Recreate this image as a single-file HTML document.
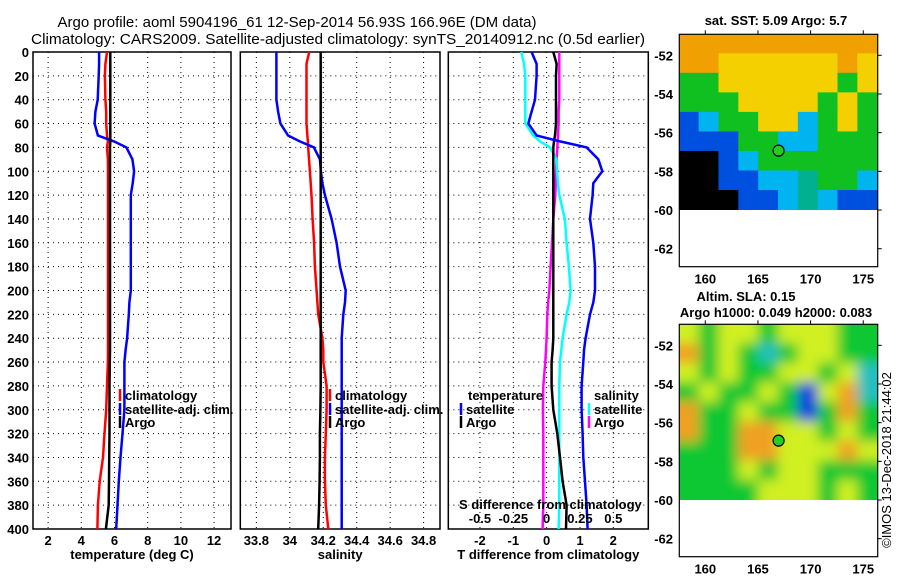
<!DOCTYPE html>
<html><head><meta charset="utf-8"><style>
body{margin:0;background:#fff}
svg{display:block;font-family:"Liberation Sans",sans-serif}
.t{font-size:13px;font-weight:bold;fill:#000}
</style></head><body>
<svg id="fig" width="900" height="580" viewBox="0 0 900 580">
<text x="297" y="27" text-anchor="middle" font-size="15" textLength="479" lengthAdjust="spacingAndGlyphs">Argo profile: aoml 5904196_61 12-Sep-2014 56.93S 166.96E (DM data)</text>
<text x="338" y="44" text-anchor="middle" font-size="15" textLength="614" lengthAdjust="spacingAndGlyphs">Climatology: CARS2009. Satellite-adjusted climatology: synTS_20140912.nc (0.5d earlier)</text>
<g id="panels"></g>
<g id="maps"></g>
<text transform="translate(891,460) rotate(-90)" text-anchor="middle" font-size="13">©IMOS 13-Dec-2018 21:44:02</text>
</svg>
<script>
// ---- data ----
const depths = [0,10,20,40,50,60,70,75,80,90,100,110,120,140,160,180,200,210,220,240,250,260,280,300,320,340,360,380,400];
const tempArgo = [5.75,5.75,5.75,5.75,5.75,5.75,5.75,5.75,5.73,5.73,5.73,5.73,5.73,5.73,5.73,5.73,5.73,5.73,5.73,5.73,5.73,5.72,5.7,5.7,5.7,5.68,5.67,5.65,5.48];
const tempClim = [5.55,5.45,5.42,5.45,5.5,5.5,5.55,5.6,5.55,5.6,5.61,5.61,5.61,5.61,5.61,5.61,5.61,5.61,5.61,5.61,5.61,5.6,5.55,5.5,5.4,5.31,5.11,5.0,4.97];
const tempSat = [5.07,5.07,5.05,4.99,4.85,4.8,5.0,5.97,6.72,7.08,7.18,7.1,6.98,6.98,6.98,6.98,6.98,6.9,6.86,6.76,6.67,6.6,6.6,6.6,6.48,6.36,6.26,6.18,6.1];
const salArgo = [34.185,34.185,34.185,34.185,34.185,34.185,34.185,34.185,34.185,34.185,34.185,34.185,34.185,34.185,34.185,34.185,34.185,34.185,34.185,34.185,34.185,34.185,34.185,34.183,34.18,34.18,34.178,34.175,34.17];
const salClim = [34.116,34.1,34.1,34.1,34.1,34.1,34.105,34.108,34.11,34.115,34.12,34.125,34.13,34.136,34.145,34.15,34.16,34.165,34.17,34.195,34.2,34.2,34.22,34.22,34.215,34.21,34.21,34.215,34.23];
const salSat = [33.92,33.92,33.92,33.92,33.93,33.944,33.99,34.06,34.144,34.18,34.186,34.195,34.21,34.25,34.28,34.3,34.334,34.33,34.32,34.31,34.31,34.31,34.31,34.31,34.31,34.31,34.31,34.31,34.31];
const dTsat = [-0.45,-0.3,-0.3,-0.35,-0.45,-0.55,-0.3,0.4,1.2,1.55,1.67,1.4,1.38,1.3,1.4,1.45,1.45,1.4,1.3,1.17,1.12,1.1,1.05,1.05,1.08,1.1,1.15,1.2,1.23];
const dTargo = [0.2,0.3,0.28,0.28,0.28,0.28,0.25,0.22,0.2,0.2,0.2,0.2,0.2,0.2,0.2,0.2,0.2,0.2,0.2,0.2,0.18,0.15,0.15,0.2,0.32,0.4,0.48,0.6,0.58];
const dSsat = [-0.19,-0.17,-0.16,-0.16,-0.16,-0.16,-0.1,-0.05,0.025,0.075,0.078,0.085,0.095,0.137,0.15,0.167,0.18,0.17,0.15,0.12,0.11,0.1,0.095,0.095,0.095,0.095,0.095,0.095,0.09];
const dSargo = [0.095,0.095,0.095,0.095,0.09,0.09,0.085,0.082,0.08,0.075,0.07,0.068,0.065,0.05,0.04,0.03,0.02,0.012,0.005,0,-0.005,-0.01,-0.025,-0.028,-0.025,-0.025,-0.025,-0.025,-0.03];
const depthTicks = [0,20,40,60,80,100,120,140,160,180,200,220,240,260,280,300,320,340,360,380,400];
const tempTicks = [2,4,6,8,10,12];
const salTicks = [33.8,34,34.2,34.4,34.6,34.8];
const salTickLabels = ["33.8","34","34.2","34.4","34.6","34.8"];
const dTTicks = [-2,-1,0,1,2];
const dSTicks = [-0.5,-0.25,0,0.25,0.5];
const latTicks = [-52,-54,-56,-58,-60,-62];
const lonTicks = [160,165,170,175];

const NS="http://www.w3.org/2000/svg";
function el(tag,attrs,parent,txt){const e=document.createElementNS(NS,tag);for(const k in attrs)e.setAttribute(k,attrs[k]);if(txt!==undefined)e.textContent=txt;parent.appendChild(e);return e;}
const Y0=52,Y1=529;
const yD=d=>Y0+(d/400)*(Y1-Y0);
const G=document.getElementById('panels');

function panel(name,L,R,xmin,xmax,ticks,labels,title){
  const x=v=>L+(v-xmin)/(xmax-xmin)*(R-L);
  const g=el('g',{},G);
  
  
  depthTicks.forEach(d=>{if(d>0&&d<400){const l=el('line',{x1:L,x2:R,y1:yD(d),y2:yD(d),stroke:'#000','stroke-width':1,'stroke-dasharray':'1,4'},g);}});
  ticks.forEach((t,i)=>{const xx=x(t);
    const l=el('line',{x1:xx,x2:xx,y1:Y0,y2:Y1,stroke:'#000','stroke-width':1,'stroke-dasharray':'1,4'},g);
    
    if(labels){const tx=el('text',{x:xx,y:545,'text-anchor':'middle',class:'t'},g,labels[i]);
    }});
  const r=el('rect',{x:L,y:Y0,width:R-L,height:Y1-Y0,fill:'none',stroke:'#000','stroke-width':1.5},g);
  
  if(title){const tt=el('text',{x:(L+R)/2,y:559,'text-anchor':'middle',class:'t'},g,title);
  }
  return {g,x};
}
function line(p,vals,color,w,name){
  const pts=vals.map((v,i)=>p.x(v).toFixed(1)+','+yD(depths[i]).toFixed(1)).join(' ');
  const l=el('polyline',{points:pts,fill:'none',stroke:color,'stroke-width':w},p.g);
  
}
function legend(g,x,y,color,label,name){
  const l=el('line',{x1:x,x2:x,y1:y-11,y2:y+1,stroke:color,'stroke-width':2.5},g);
  
  const t=el('text',{x:x+5,y:y,class:'t'},g,label);
  
}
// panel 1
const p1=panel('temperature-panel',33,231,1.09,13.02,tempTicks,tempTicks.map(String),'temperature (deg C)');
depthTicks.forEach(d=>{const t=el('text',{x:29,y:yD(d)+5,'text-anchor':'end',class:'t'},p1.g,String(d));});
line(p1,tempClim,'#f00',2.5,'temp-climatology-line');
line(p1,tempSat,'#00f',2.5,'temp-satellite-line');
line(p1,tempArgo,'#000',2.5,'temp-argo-line');
legend(p1.g,120,400,'#f00','climatology','legend-climatology');
legend(p1.g,120,414,'#00f','satellite-adj. clim.','legend-satellite');
legend(p1.g,120,427,'#000','Argo','legend-argo');
// panel 2
const p2=panel('salinity-panel',240.3,440,33.704,34.898,salTicks,salTickLabels,'salinity');
line(p2,salClim,'#f00',2.5,'sal-climatology-line');
line(p2,salSat,'#00f',2.5,'sal-satellite-line');
line(p2,salArgo,'#000',2.5,'sal-argo-line');
legend(p2.g,330,400,'#f00','climatology','legend-climatology');
legend(p2.g,330,414,'#00f','satellite-adj. clim.','legend-satellite');
legend(p2.g,330,427,'#000','Argo','legend-argo');
// panel 3
const p3=panel('difference-panel',448.3,648.3,-2.95,3.05,dTTicks,dTTicks.map(String),'T difference from climatology');
const pS={g:p3.g,x:v=>p3.x(v*4)};
line(pS,dSargo,'#f0f',2.5,'sal-diff-argo-line');
line(pS,dSsat,'#0ff',2.5,'sal-diff-satellite-line');
line(p3,dTargo,'#000',2.5,'temp-diff-argo-line');
line(p3,dTsat,'#00f',2.5,'temp-diff-satellite-line');
{const t=el('text',{x:468,y:400,class:'t'},p3.g,'temperature');
const t2=el('text',{x:594,y:400,class:'t'},p3.g,'salinity');}
legend(p3.g,461,414,'#00f','satellite','legend-temp-satellite');
legend(p3.g,461,427,'#000','Argo','legend-temp-argo');
legend(p3.g,589,414,'#0ff','satellite','legend-sal-satellite');
legend(p3.g,589,427,'#f0f','Argo','legend-sal-argo');
{const t=el('text',{x:459,y:509,class:'t'},p3.g,'S difference from climatology');}
dSTicks.forEach(s=>{const t=el('text',{x:pS.x(s),y:523,'text-anchor':'middle',class:'t'},p3.g,String(s));});

// ---- maps ----
const sstColors={O:'#f0a000',Y:'#f5d000',G:'#10c020',T:'#00b090',C:'#00b4f0',B:'#0050e0',K:'#000'};
const sstGrid=["OOOOOOOOOO","OOYYYYYYOY","GGYYYYYYGY","GGGYYYYGYG","BCGGYYCGYG","BBBGGCCGGG","KKBCGGGGGG","KKBBCCTGGC","KKKBBCTCBB"];
const slaColors={L:'#d0f020',G:'#10c830',O:'#f0a020',B:'#1040e0',C:'#20c0c0'};
const slaGrid=["LGLLGLLLGG","OGLGCGLLGG","LGLGGLLGLC","GLGGLGBLOC","OGGLGGBGOG","OGGOOLLGLG","GGGOOLLLOL","GGGLGLLGGG","GGGGLLLGLG"];
const M=document.getElementById('maps');
const lonX=lo=>705.3+(lo-160)*10.53;
function map(name,top,grid,colors,blur,titles){
  const latY=la=>top+21+(-52-la)*19.34;
  const L=679.3,R=877.7,B=top+232.4,dataB=latY(-60);
  const g=el('g',{},M);
  
  const cid='clip'+name;
  const cp=el('clipPath',{id:cid},g);el('rect',{x:L,y:top,width:R-L,height:dataB-top},cp);
  const hg=el('g',{'clip-path':'url(#'+cid+')'},g);
  el('rect',{x:L,y:top,width:R-L,height:dataB-top,fill:blur?'#40d030':'#10c020'},hg);
  const inner=el('g',blur?{filter:'url(#blur)'}:{},hg);
  const cw=(R-L)/grid[0].length,ch=(dataB-top)/grid.length;
  const nr=grid.length,nc=grid[0].length;
  grid.forEach((row,r)=>[...row].forEach((c,i)=>{
    let x0=L+i*cw-0.5,y0=top+r*ch-0.5,w=cw+1,h=ch+1;
    if(blur){if(i==0){x0-=20;w+=20;} if(i==nc-1)w+=20; if(r==0){y0-=20;h+=20;} if(r==nr-1)h+=20;}
    const cell=el('rect',{x:x0,y:y0,width:w,height:h,fill:colors[c]},inner);
    }));
  const fr=el('rect',{x:L,y:top,width:R-L,height:B-top,fill:'none',stroke:'#000','stroke-width':1.2},g);
  
  latTicks.forEach(la=>{const t=el('text',{x:673,y:latY(la)+5,'text-anchor':'end',class:'t'},g,String(la));
    el('line',{x1:R,x2:R+4,y1:latY(la),y2:latY(la),stroke:'#000'},g);});
  lonTicks.forEach(lo=>{const t=el('text',{x:lonX(lo),y:B+17,'text-anchor':'middle',class:'t'},g,String(lo));
    el('line',{x1:lonX(lo),x2:lonX(lo),y1:top,y2:top-4,stroke:'#000'},g);});
  const mk=el('circle',{cx:lonX(166.96),cy:latY(-56.93),r:5.5,fill:'#20d020',stroke:'#000','stroke-width':1.2},g);
  
  titles.forEach((tt,i)=>{const t=el('text',{x:tt[1],y:tt[2],'text-anchor':'middle',class:'t'},g,tt[0]);});
}
const defs=el('defs',{},document.getElementById('fig'));
const f=el('filter',{id:'blur',x:'-10%',y:'-10%',width:'120%',height:'120%'},defs);
el('feGaussianBlur',{stdDeviation:6},f);
map('sst-map',34.3,sstGrid,sstColors,false,[['sat. SST: 5.09 Argo: 5.7',776,25]]);
map('sla-map',324.3,slaGrid,slaColors,true,[['Altim. SLA: 0.15',746,301],['Argo h1000: 0.049 h2000: 0.083',776,317]]);
</script>
</body></html>
